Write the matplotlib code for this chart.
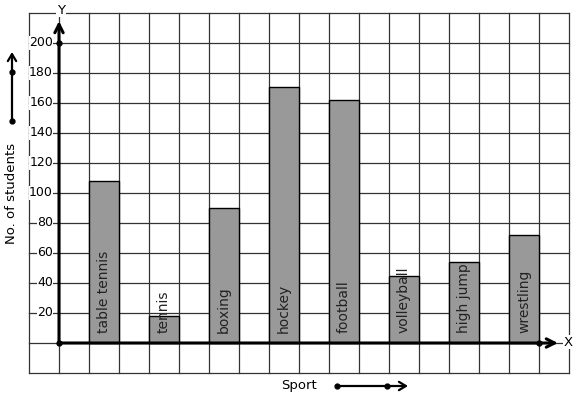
import matplotlib
matplotlib.use('Agg')
import matplotlib.pyplot as plt

# ---------------------------------------------------------------------------
# Data
# ---------------------------------------------------------------------------
sports = ['table tennis', 'tennis', 'boxing', 'hockey', 'football',
          'volleyball', 'high jump', 'wrestling']
students = [108, 18, 90, 171, 162, 45, 54, 72]
y_ticks = [20, 40, 60, 80, 100, 120, 140, 160, 180, 200]

# grid: one cell = 1 unit across, 20 students up
X_MIN, X_MAX = -1, 17
Y_MIN, Y_MAX = -20, 220


def px(x, y):
    """pixel position in the 577x399 image -> data coords"""
    return (x - 59) / 30, (343 - y) / 30 * 20


fig = plt.figure(figsize=(5.77, 3.99), dpi=100)
ax = fig.add_axes([0, 0, 1, 1])
x0, y0 = px(0, 399)
x1, y1 = px(577, 0)
ax.set_xlim(x0, x1)
ax.set_ylim(y0, y1)
ax.axis('off')

# --- grid paper ---
grid_kw = dict(color='#333333', linewidth=0.9, zorder=1)
for gx in range(X_MIN, X_MAX + 1):
    ax.plot([gx, gx], [Y_MIN, Y_MAX], **grid_kw)
for gy in range(Y_MIN, Y_MAX + 1, 20):
    ax.plot([X_MIN, X_MAX], [gy, gy], **grid_kw)

# --- bars ---
pos = [1.5 + 2 * i for i in range(len(sports))]
ax.bar(pos, students, width=1.0, color='#999999', edgecolor='black',
       linewidth=1.0, zorder=2)
for p, name in zip(pos, sports):
    ax.text(p, 6.5, name, rotation=90, ha='center', va='bottom',
            fontsize=10, color='#222222', zorder=5)

# --- axes with arrows ---
axis_kw = dict(arrowstyle='->,head_length=0.6,head_width=0.3',
               color='black', lw=2.2, shrinkA=0, shrinkB=0)
ax.annotate('', xy=(0, px(0, 21)[1]), xytext=(0, 0),
            arrowprops=axis_kw, zorder=4)
ax.annotate('', xy=(px(558, 0)[0], 0), xytext=(0, 0),
            arrowprops=axis_kw, zorder=4)
ax.plot([0, 0, 16], [0, 200, 0], 'o', color='black', markersize=3.5, zorder=6)

white = dict(facecolor='white', edgecolor='none', pad=0.5)
ax.text(*px(61, 10), 'Y', ha='center', va='center', fontsize=9.5, bbox=white, zorder=5)
ax.text(*px(568, 342), 'X', ha='center', va='center', fontsize=9.5, bbox=white, zorder=5)

for t in y_ticks:
    ax.text(-0.2, t, str(t), ha='right', va='center', fontsize=9,
            bbox=dict(facecolor='white', edgecolor='none', pad=0.3), zorder=5)

# --- axis titles with direction arrows ---
ax.text(*px(12, 193), 'No. of students', rotation=90, ha='center', va='center',
        fontsize=9.5)
ax.text(*px(299, 385), 'Sport', ha='center', va='center', fontsize=9.5)

small_kw = dict(arrowstyle='->,head_length=0.5,head_width=0.3',
                color='black', lw=1.6, shrinkA=0, shrinkB=0)
ax.annotate('', xy=px(12, 52), xytext=px(12, 121), arrowprops=small_kw)
ax.annotate('', xy=px(408, 386), xytext=px(337, 386), arrowprops=small_kw)
dots = [px(12, 121), px(12, 72), px(337, 386), px(387, 386)]
ax.plot([d[0] for d in dots], [d[1] for d in dots], 'o', color='black',
        markersize=3.5, zorder=6)

plt.savefig('out.png', dpi=100)
